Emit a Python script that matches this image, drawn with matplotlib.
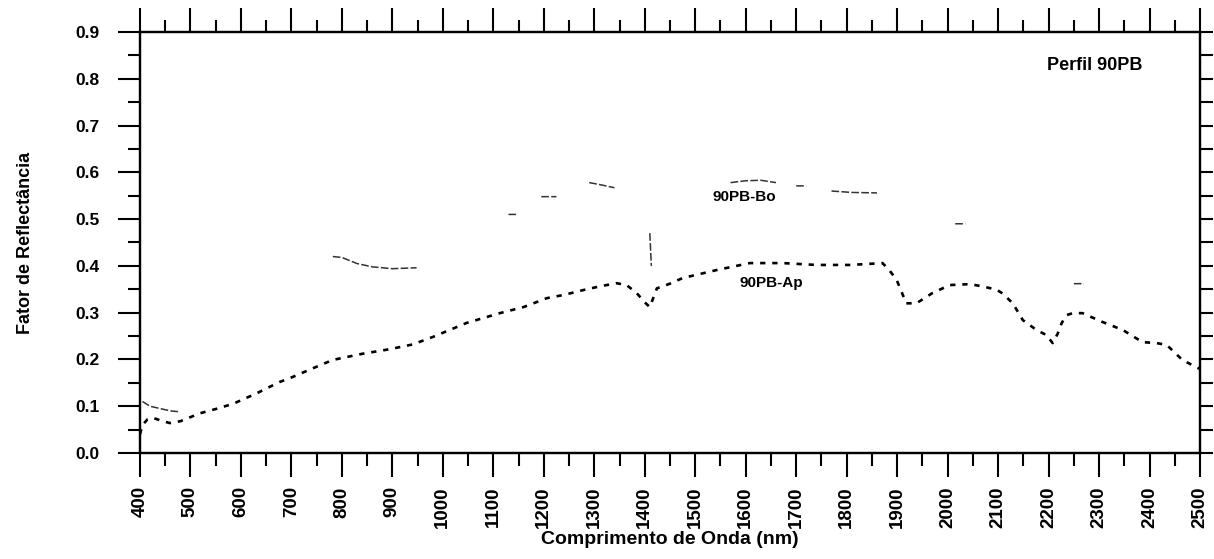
import numpy as np
import matplotlib
matplotlib.use('Agg')
import matplotlib.pyplot as plt
from matplotlib.ticker import MultipleLocator

plt.rcParams['font.family'] = ['Liberation Sans', 'DejaVu Sans']
plt.rcParams['font.weight'] = 'bold'
plt.rcParams['axes.labelweight'] = 'bold'

# 90PB-Ap (lower curve)
ap_nm = [400, 405, 415, 426, 440, 459, 480, 519, 550, 584, 630, 677, 697, 740,
         782, 840, 895, 940, 980, 1047, 1113, 1160, 1206, 1240, 1277, 1310,
         1344, 1364, 1384, 1400, 1410, 1424, 1450, 1475, 1542, 1608, 1673,
         1740, 1806, 1840, 1871, 1885, 1899, 1918, 1938, 1970, 2004, 2044,
         2070, 2097, 2109, 2129, 2149, 2176, 2196, 2208, 2218, 2226, 2236,
         2248, 2267, 2307, 2347, 2386, 2414, 2434, 2465, 2495, 2500]
ap_val = [0.04, 0.06, 0.072, 0.075, 0.07, 0.064, 0.068, 0.085, 0.094, 0.105,
          0.127, 0.152, 0.16, 0.18, 0.199, 0.212, 0.222, 0.232, 0.248, 0.278,
          0.299, 0.312, 0.331, 0.338, 0.348, 0.356, 0.363, 0.359, 0.342, 0.322,
          0.312, 0.352, 0.362, 0.374, 0.391, 0.406, 0.406, 0.402, 0.402, 0.404,
          0.406, 0.39, 0.37, 0.32, 0.32, 0.342, 0.359, 0.361, 0.356, 0.349,
          0.341, 0.32, 0.284, 0.263, 0.252, 0.235, 0.255, 0.278, 0.295, 0.299,
          0.299, 0.28, 0.263, 0.237, 0.235, 0.231, 0.199, 0.182, 0.18]

# 90PB-Bo (upper curve): only fragments survive in the scan, None = gap
bo_nm = [405, 420, 440, 460, 480, None,
         782, 800, 830, 860, 900, 948, None,
         1130, 1145, None,
         1195, 1225, None,
         1290, 1310, 1340, None,
         1410, 1413, None,
         1570, 1600, 1630, 1660, None,
         1700, 1720, None,
         1770, 1810, 1860, None,
         2015, 2035, None,
         2250, 2270]
bo_val = [0.11, 0.10, 0.095, 0.09, 0.088, None,
          0.42, 0.418, 0.405, 0.398, 0.394, 0.396, None,
          0.51, 0.51, None,
          0.548, 0.548, None,
          0.578, 0.574, 0.567, None,
          0.47, 0.40, None,
          0.578, 0.582, 0.583, 0.578, None,
          0.571, 0.571, None,
          0.56, 0.557, 0.556, None,
          0.49, 0.49, None,
          0.362, 0.362]

xticks = list(range(400, 2501, 100))

bo_x = np.array(bo_nm, dtype=float)
bo_y = np.array(bo_val, dtype=float)

fig = plt.figure(figsize=(12.14, 5.59), dpi=100)
ax = fig.add_axes([0.1153, 0.1896, 0.8732, 0.7532])

ax.plot(ap_nm, ap_val, color='black', lw=1.9, linestyle=(0, (2.0, 2.6)))
ax.plot(bo_x, bo_y, color='#333333', lw=1.1, linestyle=(0, (5, 1.5)))

ax.text(1650, 0.363, '90PB-Ap', fontsize=11, ha='center', va='center')
ax.text(1598, 0.547, '90PB-Bo', fontsize=11, ha='center', va='center')
ax.text(2291, 0.829, 'Perfil 90PB', fontsize=13, ha='center', va='center')

ax.set_xlim(400, 2500)
ax.set_ylim(0, 0.9)
ax.set_xticks(xticks)
ax.set_xticklabels([str(t) for t in xticks], rotation=90, fontsize=13.5)
ax.xaxis.set_minor_locator(MultipleLocator(50))
ax.yaxis.set_minor_locator(MultipleLocator(0.05))
ax.set_yticks(np.arange(0, 0.91, 0.1))
ax.set_yticklabels(['%.1f' % v for v in np.arange(0, 0.91, 0.1)], fontsize=12.5)

ax.tick_params(axis='x', which='both', direction='out', top=True, bottom=True)
ax.tick_params(axis='x', which='major', length=17, width=1.5, pad=7)
ax.tick_params(axis='x', which='minor', length=9, width=1.5)
ax.tick_params(axis='y', which='both', direction='out', left=True, right=False)
ax.tick_params(axis='y', which='major', length=16, width=1.5, pad=13)
ax.tick_params(axis='y', which='minor', length=9, width=1.5)

# right side has short ticks only
ax2 = ax.twinx()
ax2.set_ylim(0, 0.9)
ax2.yaxis.set_major_locator(MultipleLocator(0.05))
ax2.tick_params(axis='y', which='major', direction='out', length=9, width=1.5,
                labelright=False)

for a in (ax, ax2):
    for s in a.spines.values():
        s.set_linewidth(1.6)

ax.set_xlabel('Comprimento de Onda (nm)', fontsize=14, labelpad=2)
ax.set_ylabel('Fator de Reflectância', fontsize=13, labelpad=30)

fig.savefig('out.png', dpi=100)
